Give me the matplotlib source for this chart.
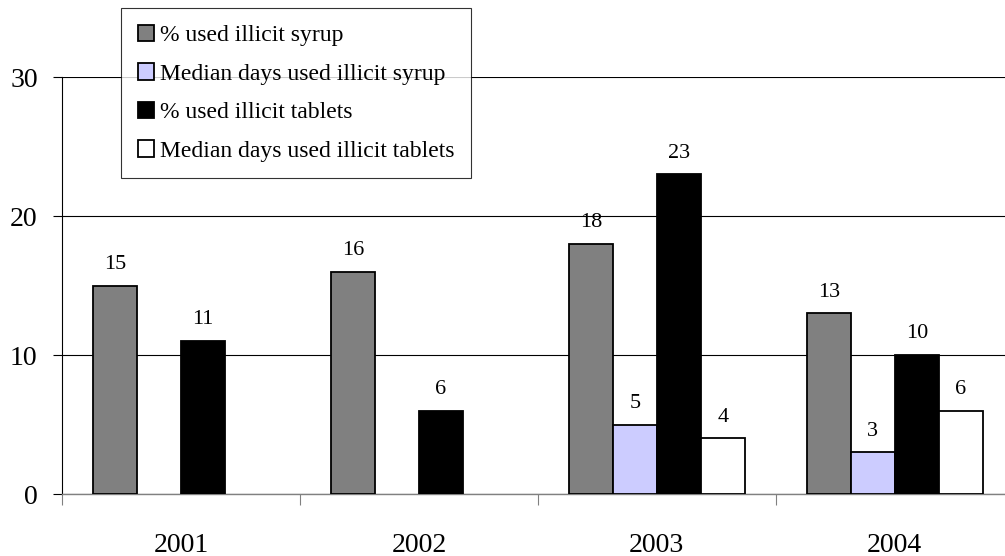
import numpy as np
import matplotlib.pyplot as plt

plt.rcParams['font.family'] = ['Liberation Serif', 'DejaVu Serif']

years = ['2001', '2002', '2003', '2004']
pct_syrup = [15, 16, 18, 13]
median_syrup = [np.nan, np.nan, 5, 3]
pct_tablets = [11, 6, 23, 10]
median_tablets = [np.nan, np.nan, 4, 6]

series = [
    ('% used illicit syrup', pct_syrup, '#808080'),
    ('Median days used illicit syrup', median_syrup, '#ccccff'),
    ('% used illicit tablets', pct_tablets, '#000000'),
    ('Median days used illicit tablets', median_tablets, '#ffffff'),
]

fig = plt.figure(figsize=(10.05, 5.56), dpi=100)
ax = fig.add_axes([0.0617, 0.1115, 0.947, 0.75])

x = np.arange(len(years))
w = 0.185
for i, (name, vals, col) in enumerate(series):
    pos = x + (i - 1.5) * w
    ax.bar(pos, vals, w, color=col, edgecolor='black', linewidth=1.3,
           label=name, zorder=3)
    for p, v in zip(pos, vals):
        if not np.isnan(v):
            ax.annotate(f'{v:g}', (p, v), xytext=(0, 12), textcoords='offset points',
                        ha='center', va='baseline', fontsize=16)

ax.set_xlim(-0.5, 3.5)
ax.set_ylim(0, 30)
ax.set_yticks([0, 10, 20, 30])
ax.tick_params(axis='y', labelsize=20, length=6.5, width=0.8, pad=11)
ax.grid(axis='y', color='black', linewidth=0.8, zorder=0)

ax.set_xticks(np.arange(-0.5, 4.0, 1.0))
ax.set_xticklabels([])
ax.set_xticks(x, minor=True)
ax.set_xticklabels(years, minor=True)
ax.tick_params(axis='x', which='major', length=8, width=0.8, color='#808080')
ax.tick_params(axis='x', which='minor', length=0, labelsize=20, pad=28)

for s in ['top', 'right']:
    ax.spines[s].set_visible(False)
ax.spines['left'].set_linewidth(0.8)
ax.spines['bottom'].set_color('#808080')
ax.spines['bottom'].set_linewidth(1.0)

leg = ax.legend(loc='upper left', bbox_to_anchor=(121 / 1005, 1 - 8 / 556),
                bbox_transform=fig.transFigure, fontsize=17,
                frameon=True, fancybox=False, edgecolor='black',
                handlelength=0.7, handleheight=0.7, handletextpad=0.25,
                labelspacing=0.72, borderpad=0.7, borderaxespad=0)
leg.get_frame().set_linewidth(0.8)
leg.set_zorder(5)

fig.savefig('out.png', dpi=100)
